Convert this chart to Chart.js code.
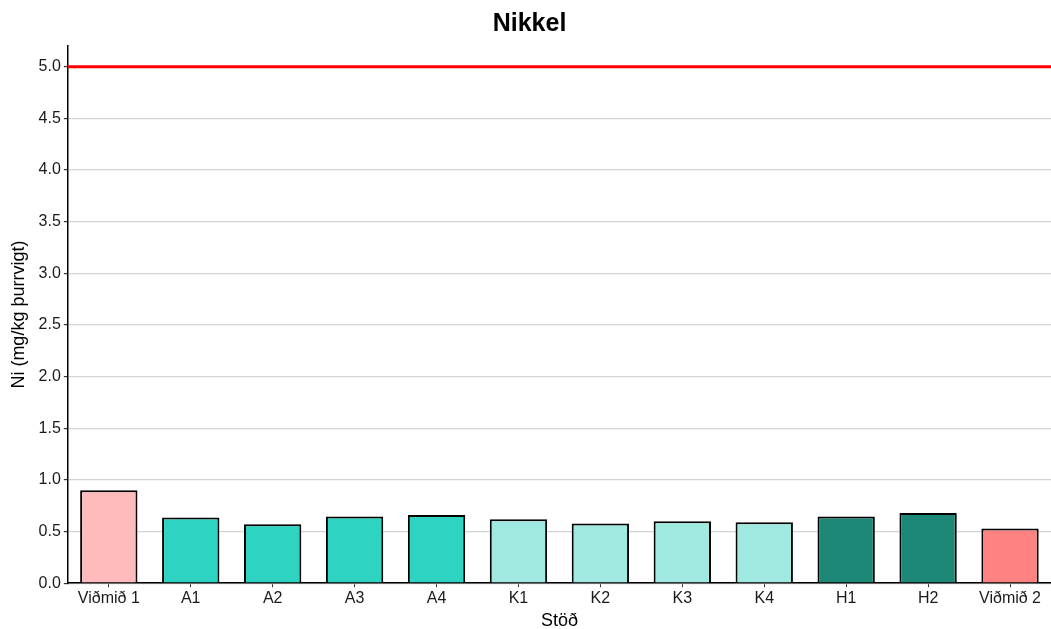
<!DOCTYPE html>
<html>
<head>
<meta charset="utf-8">
<script src="https://cdn.jsdelivr.net/npm/chart.js@4/dist/chart.umd.min.js"></script>
<style>
  html, body { margin: 0; padding: 0; background: #fff; }
  #wrap { width: 1051px; height: 629px; }
</style>
</head>
<body>
<div id="wrap"><canvas id="barChart"></canvas></div>
<script>
// stöðvar og gildi (mg/kg þurrvigt)
const stations = ['Viðmið 1', 'A1', 'A2', 'A3', 'A4', 'K1', 'K2', 'K3', 'K4', 'H1', 'H2', 'Viðmið 2'];
const niValues = [0.90, 0.635, 0.57, 0.645, 0.66, 0.62, 0.577, 0.60, 0.59, 0.645, 0.68, 0.53];
const barColors = ['#ffbbbb', '#2ed3c1', '#2ed3c1', '#2ed3c1', '#2ed3c1',
                   '#a0e9e1', '#a0e9e1', '#a0e9e1', '#a0e9e1',
                   '#1e8878', '#1e8878', '#ff8282'];
const yTicks = [0, 0.5, 1, 1.5, 2, 2.5, 3, 3.5, 4, 4.5, 5];
const limitValue = 5.0;

// rauð viðmiðunarlína
const limitLine = {
    id: 'limitLine',
    beforeDatasetsDraw(chart) {
        const { ctx, chartArea, scales } = chart;
        const y = scales.y.getPixelForValue(limitValue);
        ctx.save();
        ctx.strokeStyle = '#ff0000';
        ctx.lineWidth = 3;
        ctx.beginPath();
        ctx.moveTo(chartArea.left, y);
        ctx.lineTo(chartArea.right, y);
        ctx.stroke();
        ctx.restore();
    }
};

Chart.defaults.font.family = 'Arial, "Liberation Sans", sans-serif';
Chart.defaults.color = '#1a1a1a';

new Chart(document.getElementById('barChart'), {
    type: 'bar',
    data: {
        labels: stations,
        datasets: [{
            label: 'Ni',
            data: niValues,
            backgroundColor: barColors,
            borderColor: '#000',
            borderWidth: 2,
            borderSkipped: 'bottom',
            barPercentage: 0.7,
            categoryPercentage: 1.0
        }]
    },
    options: {
        responsive: true,
        maintainAspectRatio: false,
        animation: false,
        layout: { padding: { top: 0, right: 0, left: 8, bottom: -3 } },
        plugins: {
            legend: { display: false },
            tooltip: { enabled: false },
            title: {
                display: true,
                text: 'Nikkel',
                color: '#000',
                font: { size: 25, weight: 'bold' },
                padding: { top: 9, bottom: 7 }
            }
        },
        scales: {
            x: {
                grid: {
                    display: true,
                    drawOnChartArea: false,
                    offset: false,
                    tickLength: 4,
                    tickColor: '#333'
                },
                border: { color: '#000', width: 1.5 },
                ticks: { font: { size: 16 }, color: '#1a1a1a', padding: 2, maxRotation: 0 },
                title: {
                    display: true,
                    text: 'Stöð',
                    font: { size: 18 },
                    color: '#000',
                    padding: { top: 0, bottom: 0 }
                }
            },
            y: {
                min: 0,
                max: 5.2,
                afterBuildTicks(axis) {
                    axis.ticks = yTicks.map(v => ({ value: v }));
                },
                grid: {
                    color: '#d4d4d4',
                    lineWidth: 1.2,
                    tickLength: 4,
                    tickColor: '#333'
                },
                border: { color: '#000', width: 1.5 },
                ticks: {
                    font: { size: 16 },
                    color: '#1a1a1a',
                    padding: 3,
                    callback: v => Number(v).toFixed(1)
                },
                title: {
                    display: true,
                    text: 'Ni (mg/kg þurrvigt)',
                    font: { size: 18 },
                    color: '#000',
                    padding: { top: 0, bottom: 6 }
                }
            }
        }
    },
    plugins: [limitLine]
});
</script>
</body>
</html>
